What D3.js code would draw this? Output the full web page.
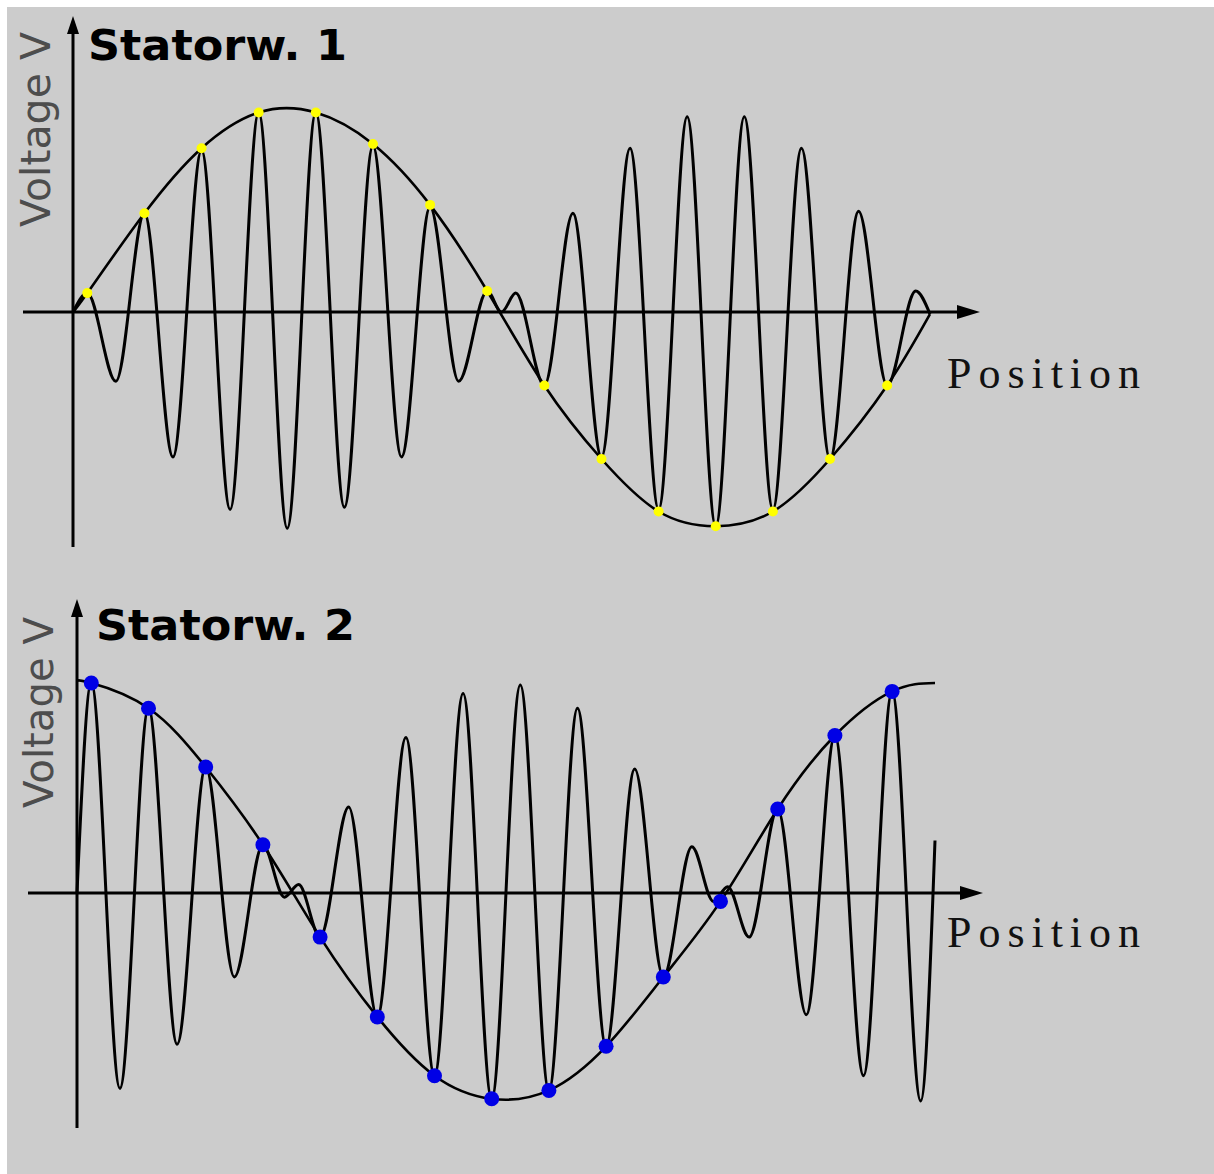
<!DOCTYPE html>
<html>
<head>
<meta charset="utf-8">
<script src="https://cdn.jsdelivr.net/npm/d3@7"></script>
<style>
  html, body { margin: 0; padding: 0; background: #ffffff; }
  svg { display: block; }
</style>
</head>
<body>
<svg id="chart"></svg>
<script>
// rotor position in degrees, extrema of the stator signals
const wave1Pos = [0, 6, 18, 30, 42, 54, 66, 78, 90, 102, 114, 126, 138, 150, 162, 174, 180,
                  186, 198, 210, 222, 234, 246, 258, 270, 282, 294, 306, 318, 330, 342, 354, 360];
const wave1Val = [0, 0.09, -0.33, 0.47, -0.69, 0.77, -0.94, 0.95, -1.03, 0.95, -0.93, 0.79, -0.69, 0.50, -0.33, 0.10, 0,
                  0.09, -0.35, 0.47, -0.69, 0.78, -0.94, 0.93, -1.02, 0.93, -0.94, 0.78, -0.70, 0.48, -0.35, 0.10, -0.01];

const wave2Pos = [0, 6, 18, 30, 42, 54, 66, 78, 87, 93, 102, 114, 126, 138, 150, 162, 174,
                  186, 198, 210, 222, 234, 246, 258, 267, 273, 282, 294, 306, 318, 330, 342, 354, 360];
const wave2Val = [0, 1.00, -0.93, 0.88, -0.72, 0.60, -0.40, 0.23, -0.02, 0.04, -0.21, 0.41, -0.59, 0.74, -0.87, 0.95, -0.98,
                  0.99, -0.94, 0.88, -0.73, 0.59, -0.40, 0.22, -0.04, 0.03, -0.21, 0.40, -0.58, 0.75, -0.87, 0.96, -0.99, 0.25];

// sample points (carrier peaks) sitting on the envelope
const dotPos = [6, 30, 54, 78, 102, 126, 150, 174, 198, 222, 246, 270, 294, 318, 342];
const dots1Val = [0.09, 0.47, 0.78, 0.95, 0.95, 0.80, 0.51, 0.10, -0.35, -0.70, -0.95, -1.02, -0.95, -0.70, -0.35];
const dots2Val = [1.00, 0.88, 0.60, 0.23, -0.21, -0.59, -0.87, -0.98, -0.94, -0.73, -0.40, -0.04, 0.40, 0.75, 0.96];

// envelope end points
const env1Ends = [[0, 0], [360, -0.01]];
const env2Ends = [[0, 1.01], [360, 1.00]];

const titles = ['Statorw. 1', 'Statorw. 2'];
const yLabel = 'Voltage V';
const xLabel = 'Position';

const width = 1214, height = 1174;

let svg = d3.select('#chart')
    .attr('width', width)
    .attr('height', height);

svg.append('rect')
    .attr('x', 7).attr('y', 7)
    .attr('width', width - 7).attr('height', height - 7)
    .attr('fill', '#cccccc');

// layout of each panel
const panels = [
    {
        title: titles[0], x0: 73, x1: 930, y0: 312, amp: 210,
        yTop: 16, yBottom: 547, xLeft: 23, xRight: 980,
        titleX: 88, titleY: 60, titleW: 259,
        labX: 50, labY: 227, labW: 195,
        posX: 947, posY: 388,
        wave: wave1Pos.map((p, i) => [p, wave1Val[i]]),
        dots: dotPos.map((p, i) => [p, dots1Val[i]]),
        ends: env1Ends, dotColor: '#ffff00', dotR: 5
    },
    {
        title: titles[1], x0: 77, x1: 935, y0: 893, amp: 210,
        yTop: 599, yBottom: 1128, xLeft: 28, xRight: 983,
        titleX: 96, titleY: 640, titleW: 259,
        labX: 53, labY: 808, labW: 191,
        posX: 947, posY: 947,
        wave: wave2Pos.map((p, i) => [p, wave2Val[i]]),
        dots: dotPos.map((p, i) => [p, dots2Val[i]]),
        ends: env2Ends, dotColor: '#0000e6', dotR: 7.5
    }
];

panels.forEach(drawPanel);

function drawPanel(p) {
    let g = svg.append('g');

    let x = d3.scaleLinear().domain([0, 360]).range([p.x0, p.x1]);
    let y = d3.scaleLinear().domain([-1, 1]).range([p.y0 + p.amp, p.y0 - p.amp]);

    // axes with arrow heads
    g.append('line')
        .attr('x1', p.x0).attr('y1', p.yBottom)
        .attr('x2', p.x0).attr('y2', p.yTop + 10)
        .attr('stroke', '#000').attr('stroke-width', 3);
    g.append('path')
        .attr('d', `M${p.x0},${p.yTop} L${p.x0 - 6},${p.yTop + 18} L${p.x0 + 6},${p.yTop + 18} Z`)
        .attr('fill', '#000');

    g.append('line')
        .attr('x1', p.xLeft).attr('y1', p.y0)
        .attr('x2', p.xRight - 10).attr('y2', p.y0)
        .attr('stroke', '#000').attr('stroke-width', 3);
    g.append('path')
        .attr('d', `M${p.xRight},${p.y0} L${p.xRight - 23},${p.y0 - 7} L${p.xRight - 23},${p.y0 + 7} Z`)
        .attr('fill', '#000');

    // modulated stator signal
    let waveLine = d3.line()
        .x(d => x(d[0]))
        .y(d => y(d[1]))
        .curve(d3.curveMonotoneX);

    g.append('path')
        .datum(p.wave)
        .attr('d', waveLine)
        .attr('fill', 'none')
        .attr('stroke', '#000')
        .attr('stroke-width', 3)
        .attr('stroke-linejoin', 'round');

    // envelope through the sample points
    let envData = [p.ends[0]].concat(p.dots, [p.ends[1]]);
    let envLine = d3.line()
        .x(d => x(d[0]))
        .y(d => y(d[1]))
        .curve(d3.curveNatural);

    g.append('path')
        .datum(envData)
        .attr('d', envLine)
        .attr('fill', 'none')
        .attr('stroke', '#000')
        .attr('stroke-width', 2.6);

    g.selectAll('circle')
        .data(p.dots)
        .enter()
        .append('circle')
        .attr('cx', d => x(d[0]))
        .attr('cy', d => y(d[1]))
        .attr('r', p.dotR)
        .attr('fill', p.dotColor);

    // texts
    g.append('text')
        .attr('x', p.titleX).attr('y', p.titleY)
        .attr('font-family', 'DejaVu Sans, Verdana, sans-serif')
        .attr('font-weight', 'bold')
        .attr('font-size', 43)
        .attr('textLength', p.titleW)
        .attr('lengthAdjust', 'spacingAndGlyphs')
        .attr('fill', '#000')
        .text(p.title);

    g.append('text')
        .attr('transform', `translate(${p.labX},${p.labY}) rotate(-90)`)
        .attr('font-family', 'DejaVu Sans, Verdana, sans-serif')
        .attr('font-size', 40)
        .attr('textLength', p.labW)
        .attr('lengthAdjust', 'spacingAndGlyphs')
        .attr('fill', '#4d4d4d')
        .text(yLabel);

    g.append('text')
        .attr('x', p.posX).attr('y', p.posY)
        .attr('font-family', 'Liberation Serif, serif')
        .attr('font-size', 44)
        .attr('textLength', 193)
        .attr('lengthAdjust', 'spacing')
        .attr('fill', '#111')
        .text(xLabel);
}
</script>
</body>
</html>
